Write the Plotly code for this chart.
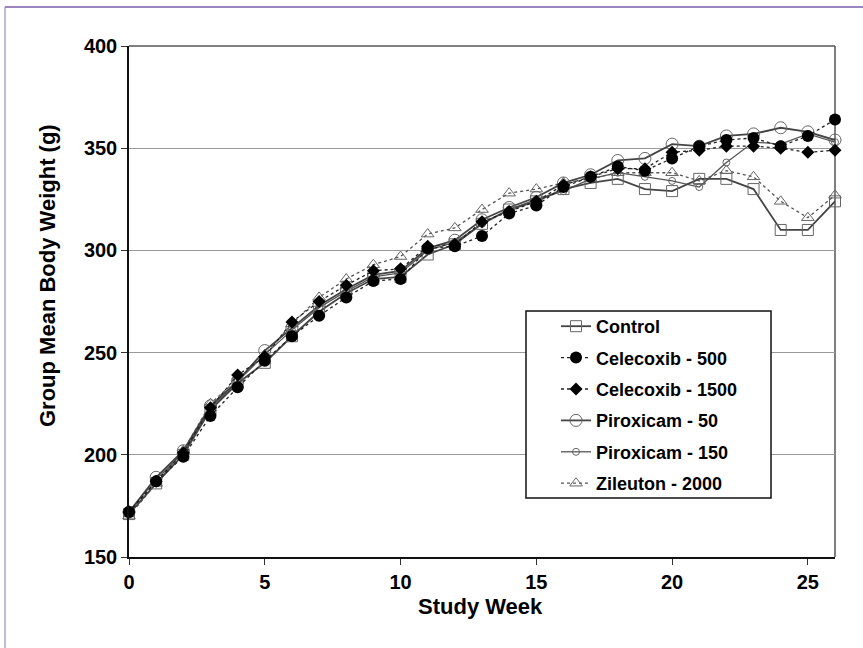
import plotly.graph_objects as go

weeks = list(range(27))

control = [171, 186, 200, 222, 235, 245, 258, 270, 279, 286, 287, 298, 303, 313, 320, 324, 330, 333, 335, 330, 329, 335, 335, 330, 310, 310, 324]
celecoxib_500 = [172, 187, 199, 219, 233, 246, 258, 268, 277, 285, 286, 301, 302, 307, 318, 322, 331, 336, 341, 339, 345, 351, 354, 355, 351, 356, 364]
celecoxib_1500 = [172, 187, 201, 223, 239, 248, 265, 275, 283, 290, 291, 302, 303, 314, 319, 324, 332, 336, 340, 340, 348, 349, 351, 351, 350, 348, 349]
piroxicam_50 = [172, 189, 202, 224, 236, 251, 262, 273, 281, 288, 290, 301, 305, 315, 321, 326, 333, 337, 344, 345, 352, 351, 356, 357, 360, 358, 354]
piroxicam_150 = [172, 188, 201, 223, 236, 249, 261, 272, 280, 287, 289, 300, 304, 313, 320, 325, 329, 335, 338, 336, 334, 331, 343, 353, 352, 357, 353]
zileuton_2000 = [170, 186, 202, 225, 237, 249, 264, 277, 286, 293, 297, 308, 311, 320, 328, 330, 333, 335, 338, 338, 338, 334, 339, 336, 324, 316, 327]

x_ticks = [0, 5, 10, 15, 20, 25]
y_ticks = [150, 200, 250, 300, 350, 400]
x_title = "Study Week"
y_title = "Group Mean Body Weight (g)"

FONT = "Liberation Sans, Arial, sans-serif"

fig = go.Figure()

# drawing order (legendrank controls legend order)
series = [
    dict(name="Zileuton - 2000", y=zileuton_2000, rank=6, dash="dot", lc="#555555", lw=1.3,
         sym="triangle-up-open", ms=11, mc="#666666", mlw=1),
    dict(name="Piroxicam - 150", y=piroxicam_150, rank=5, dash="solid", lc="#555555", lw=1.3,
         sym="circle-open", ms=7, mc="#666666", mlw=1),
    dict(name="Piroxicam - 50", y=piroxicam_50, rank=4, dash="solid", lc="#444444", lw=1.8,
         sym="circle-open", ms=12, mc="#666666", mlw=1),
    dict(name="Control", y=control, rank=1, dash="solid", lc="#444444", lw=1.8,
         sym="square-open", ms=11, mc="#666666", mlw=1),
    dict(name="Celecoxib - 1500", y=celecoxib_1500, rank=3, dash="dot", lc="#222222", lw=1.3,
         sym="diamond", ms=10, mc="#000000", mlw=0),
    dict(name="Celecoxib - 500", y=celecoxib_500, rank=2, dash="dot", lc="#222222", lw=1.3,
         sym="circle", ms=12, mc="#000000", mlw=0),
]

for s in series:
    fig.add_trace(go.Scatter(
        x=weeks, y=s["y"], name=s["name"], mode="lines+markers", legendrank=s["rank"],
        legendgroup=s["name"],
        line=dict(color=s["lc"], width=s["lw"], dash=s["dash"]),
        marker=dict(symbol=s["sym"], size=s["ms"], color=s["mc"],
                    line=dict(color=s["mc"], width=s["mlw"])),
        cliponaxis=False,
    ))

# plot area in pixels: x 129..835, y 46..557
def px(xp):
    return (xp - 129) / 706.0

def py(yp):
    return (557 - yp) / 511.0

fig.update_layout(
    width=863, height=648,
    margin=dict(l=129, r=28, t=46, b=91),
    paper_bgcolor="white", plot_bgcolor="white",
    font=dict(family=FONT, color="black"),
    showlegend=True,
    legend=dict(
        x=px(556), y=py(308), xanchor="left", yanchor="top",
        bgcolor="rgba(0,0,0,0)", borderwidth=0,
        font=dict(family=FONT, size=18, color="black", weight="bold"),
        tracegroupgap=5, itemwidth=30,
    ),
    xaxis=dict(
        range=[0, 26], tickvals=x_ticks, ticks="outside", ticklen=6, tickcolor="#333333",
        showline=True, linecolor="#111111", linewidth=1.5, mirror=False,
        showgrid=False, zeroline=False,
        tickfont=dict(family=FONT, size=20, weight="bold"),
    ),
    yaxis=dict(
        range=[150, 400], tickvals=y_ticks, ticks="outside", ticklen=6, tickcolor="#333333",
        showline=True, linecolor="#111111", linewidth=1.5, mirror=False,
        showgrid=True, gridcolor="#9a9a9a", gridwidth=1.2, zeroline=False,
        tickfont=dict(family=FONT, size=20, weight="bold"),
    ),
    annotations=[
        dict(text=x_title, xref="paper", yref="paper", x=px(480), y=py(607),
             xanchor="center", yanchor="middle", showarrow=False,
             font=dict(family=FONT, size=22, weight="bold")),
        dict(text=y_title, xref="paper", yref="paper", x=px(47), y=py(276),
             xanchor="center", yanchor="middle", showarrow=False, textangle=-90,
             font=dict(family=FONT, size=22, weight="bold")),
    ],
    shapes=[
        # plot frame top and right
        dict(type="line", xref="paper", yref="paper", x0=0, x1=1, y0=1, y1=1,
             line=dict(color="#555555", width=1.5), layer="below"),
        dict(type="line", xref="paper", yref="paper", x0=1, x1=1, y0=0, y1=1,
             line=dict(color="#555555", width=1.5), layer="below"),
        # legend box
        dict(type="rect", xref="paper", yref="paper", x0=px(526), x1=px(771), y0=py(498), y1=py(311),
             line=dict(color="#111111", width=1.5), fillcolor="white", layer="above"),
        # outer page frame (purple)
        dict(type="line", xref="paper", yref="paper", x0=px(5), x1=px(863), y0=py(7), y1=py(7),
             line=dict(color="#7a5ca8", width=1.5)),
        dict(type="line", xref="paper", yref="paper", x0=px(5), x1=px(5), y0=py(648), y1=py(7),
             line=dict(color="#8a7aa8", width=1)),
    ],
)

fig.write_html("out.html")
